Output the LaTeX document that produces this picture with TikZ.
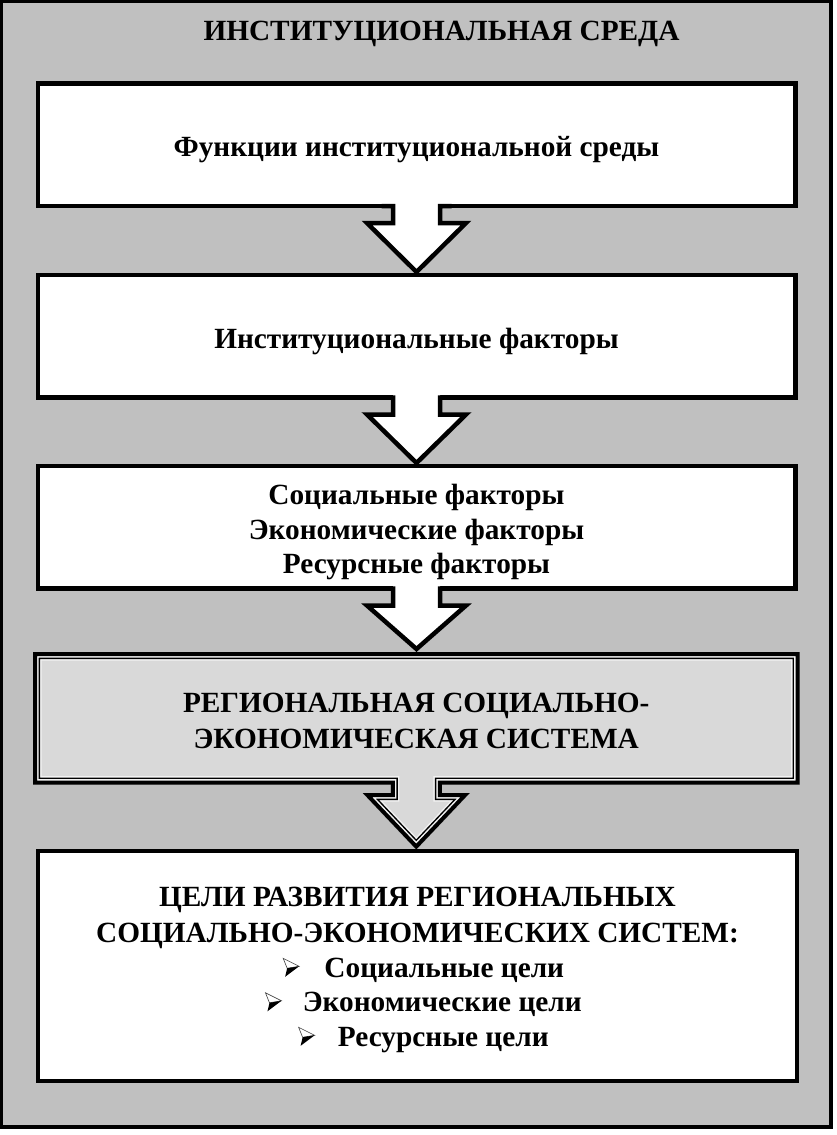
\documentclass[tikz,border=0pt]{standalone}
\usepackage{fontspec}
\setmainfont{Liberation Serif}
\usetikzlibrary{calc,backgrounds}
\definecolor{framegrey}{HTML}{C0C0C0}
\definecolor{sysfill}{HTML}{D9D9D9}
\definecolor{gapcol}{HTML}{F2F2F2}
\newcommand\mybul{\tikz[x=1pt,y=1pt,baseline=0pt,line width=0.6pt,line join=miter]{\filldraw[fill=white,draw=black!75] (0,19)--(16,11)--(4,9)--cycle; \fill[black] (4,9)--(16,11)--(2,0.5)--cycle;}}
\begin{document}
\begin{tikzpicture}[x=1pt,y=-1pt,
  txt/.style={font=\fontsize{29.3}{34.5}\selectfont\bfseries, align=center, inner sep=0pt},
  plainbox/.style={draw=black, line width=4.5pt, fill=white, minimum width=757.5pt, minimum height=122.5pt, inner sep=0pt, outer sep=0pt},
  sysbox/.style={minimum width=766.5pt, minimum height=132.5pt, inner sep=0pt, outer sep=0pt},
  arrowline/.style={draw=black, line width=4.5pt, line join=miter},
  ]
\useasboundingbox (0,0) rectangle (837,1135);

\node[txt, yshift=-3pt] (title) at (441.5,31) {ИНСТИТУЦИОНАЛЬНАЯ СРЕДА};
\node[plainbox, label={[txt,yshift=-5pt]center:{Функции институциональной среды}}] (b1) at (416.5,144.75) {};
\node[plainbox, label={[txt,yshift=-5pt]center:{Институциональные факторы}}] (b2) at (416.5,336.25) {};
\node[plainbox, label={[txt,yshift=-5pt]center:{Социальные факторы\\Экономические факторы\\Ресурсные факторы}}] (b3) at (416.5,527.25) {};
\node[sysbox, label={[txt,yshift=-3pt]center:{РЕГИОНАЛЬНАЯ СОЦИАЛЬНО-\\[1.5pt]ЭКОНОМИЧЕСКАЯ СИСТЕМА}}] (b4) at (416.25,718.25) {};
\node[plainbox, minimum width=759pt, minimum height=230pt,
  label={[txt,yshift=-4pt]center:{ЦЕЛИ РАЗВИТИЯ РЕГИОНАЛЬНЫХ\\[1.5pt]
   СОЦИАЛЬНО-ЭКОНОМИЧЕСКИХ СИСТЕМ:\\
   \hspace*{12pt}\mybul\hspace{25pt}Социальные цели\\
   \hspace*{12pt}\mybul\hspace{21pt}Экономические цели\\
   \hspace*{12pt}\mybul\hspace{23pt}Ресурсные цели}}] (b5) at (417.5,966) {};

% outline of the system box joined with its block arrow
\path[save path=\ufp] (b4.north west) -- (b4.north east) -- (b4.south east)
  -- ($(b4.south)+(25.5,0)$) -- ($(b4.south)+(25.5,8.5)$) -- ($(b4.south)+(53.5,8.5)$)
  -- ($(b4.south |- b5.north)+(0,-1.5)$)
  -- ($(b4.south)+(-53.5,8.5)$) -- ($(b4.south)+(-25.5,8.5)$) -- ($(b4.south)+(-25.5,0)$)
  -- (b4.south west) -- cycle;

\begin{pgfonlayer}{background}
  \draw[line width=4pt, fill=framegrey] (1,0.8) rectangle (831,1126.5);
  \begin{scope}
    \clip[use path=\ufp];
    \fill[sysfill, use path=\ufp];
    \draw[draw=gapcol, line width=17pt, line join=miter, use path=\ufp];
    \draw[draw=black, line width=14pt, line join=miter, use path=\ufp];
    \draw[draw=gapcol, line width=11pt, line join=miter, use path=\ufp];
    \draw[draw=black, line width=8pt, line join=miter, use path=\ufp];
  \end{scope}
\end{pgfonlayer}

% block arrows between the boxes
\foreach \a/\b in {b1/b2,b2/b3,b3/b4}{
  \fill[white] ($(\a.south)+(-23.5,-4)$) -- ($(\a.south)+(-23.5,17)$) -- ($(\a.south)+(-49.5,17)$)
    -- ($(\a.south |- \b.north)+(0,-3)$) -- ($(\a.south)+(49.5,17)$) -- ($(\a.south)+(23.5,17)$)
    -- ($(\a.south)+(23.5,-4)$) -- cycle;
  \draw[arrowline] ($(\a.south)+(-35,0)$) -- ($(\a.south)+(-23.5,0)$) -- ($(\a.south)+(-23.5,17)$)
    -- ($(\a.south)+(-49.5,17)$) -- ($(\a.south |- \b.north)+(0,-3)$) -- ($(\a.south)+(49.5,17)$)
    -- ($(\a.south)+(23.5,17)$) -- ($(\a.south)+(23.5,0)$) -- ($(\a.south)+(35,0)$);
}
\end{tikzpicture}
\end{document}
